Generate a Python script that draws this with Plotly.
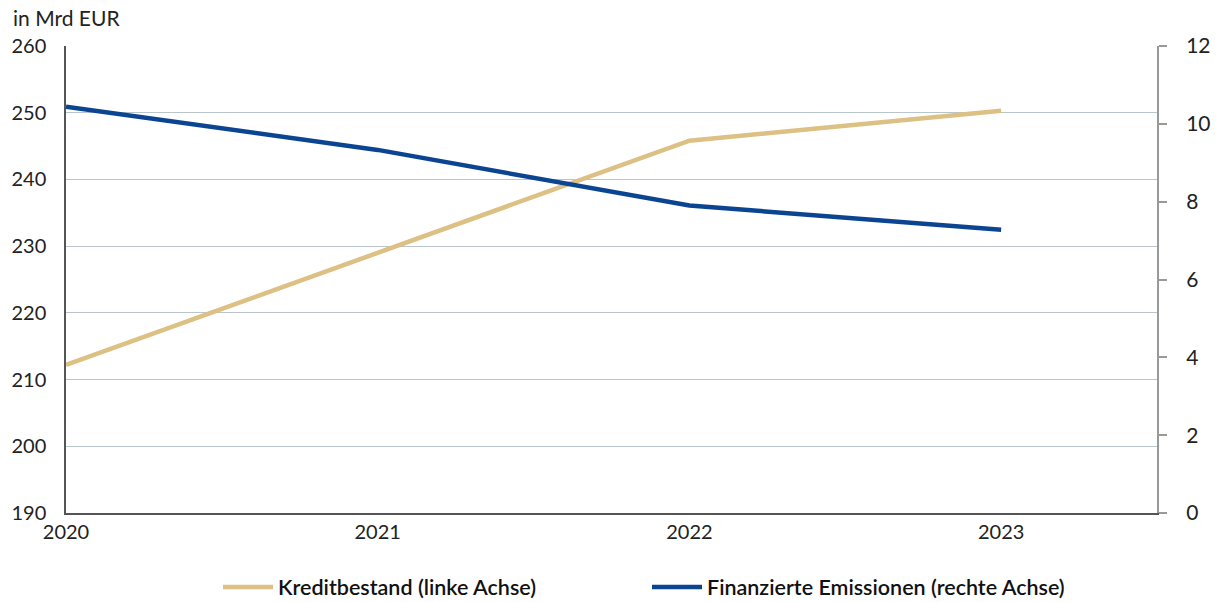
import plotly.graph_objects as go

years = [2020, 2021, 2022, 2023]
kreditbestand = [212.2, 229.0, 245.8, 250.3]
emissionen = [10.44, 9.33, 7.9, 7.28]
left_ticks = [190, 200, 210, 220, 230, 240, 250, 260]
right_ticks = [0, 2, 4, 6, 8, 10, 12]

fig = go.Figure()
fig.add_trace(go.Scatter(x=years, y=kreditbestand, mode="lines",
                         name="Kreditbestand (linke Achse)",
                         line=dict(color="#DCC084", width=4.5)))
fig.add_trace(go.Scatter(x=years, y=emissionen, mode="lines",
                         name="Finanzierte Emissionen (rechte Achse)",
                         line=dict(color="#0B4592", width=4.5), yaxis="y2"))

font_family = "Lato, 'Open Sans', sans-serif"
fig.update_layout(
    width=1218, height=602,
    margin=dict(l=66, r=61, t=46, b=89, autoexpand=False),
    plot_bgcolor="white", paper_bgcolor="white",
    font=dict(family=font_family, size=20, color="#222"),
    showlegend=True,
    legend=dict(orientation="h", x=218 / 1218, xanchor="left", xref="container",
                y=(513 - 587) / 467, yanchor="middle", yref="paper",
                font=dict(size=21.5, color="#111", weight=600),
                entrywidth=364, entrywidthmode="pixels", itemwidth=50),
    xaxis=dict(range=[2020, 2023.5], tickvals=years, ticktext=[str(y) for y in years],
               showgrid=False, zeroline=False, showline=True, linecolor="#555",
               linewidth=1.5, ticks="", tickfont=dict(size=20)),
    yaxis=dict(range=[190, 260], tickvals=left_ticks, showgrid=True,
               gridcolor="#B9C5CC", gridwidth=1.2, zeroline=False,
               showline=True, linecolor="#555", linewidth=1.5, ticks="",
               tickfont=dict(size=20), ticklabelstandoff=14),
    yaxis2=dict(range=[0, 12], tickvals=right_ticks, overlaying="y", side="right",
                showgrid=False, zeroline=False, showline=True, linecolor="#999",
                linewidth=2, ticks="outside", ticklen=8, tickcolor="#999",
                tickwidth=1.5, tickfont=dict(size=21), ticklabelstandoff=15),
)
fig.add_annotation(text="in Mrd EUR", xref="paper", yref="paper",
                   x=-55 / 1091, y=1 + 28 / 467, xanchor="left", yanchor="middle",
                   showarrow=False, font=dict(size=21, color="#222"))
fig.write_html("out.html")
